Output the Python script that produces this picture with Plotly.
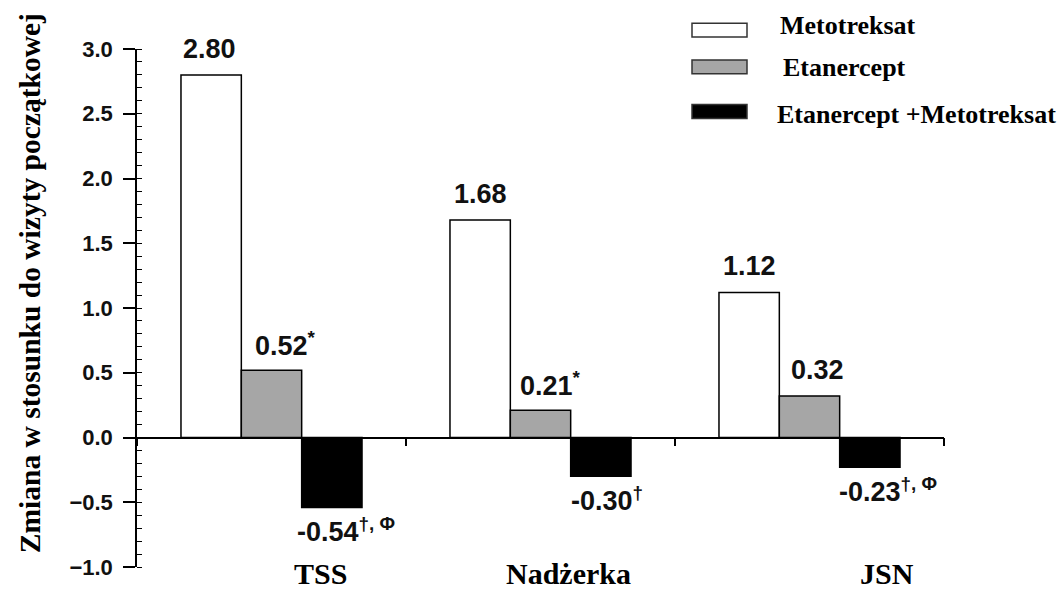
import plotly.graph_objects as go

categories = ["TSS", "Nadżerka", "JSN"]
series_names = ["Metotreksat", "Etanercept", "Etanercept +Metotreksat"]
metotreksat = [2.80, 1.68, 1.12]
etanercept = [0.52, 0.21, 0.32]
combo = [-0.54, -0.30, -0.23]
notes_met = ["", "", ""]
notes_eta = ["*", "*", ""]
notes_combo = ["†, Φ", "†", "†, Φ"]
y_ticks = [-1.0, -0.5, 0.0, 0.5, 1.0, 1.5, 2.0, 2.5, 3.0]
y_title = "Zmiana w stosunku do wizyty początkowej"

values = [metotreksat, etanercept, combo]
notes = [notes_met, notes_eta, notes_combo]
fills = ["#ffffff", "#a6a6a6", "#000000"]

# style / layout constants
W, H = 1064, 592
L, R, T, B = 137, 120, 49, 21
PW, PH = W - L - R, H - T - B
BARGAP = 0.327
BW = (1 - BARGAP) / 3
label_xshift = [[-2, 0, 0], [14, 10, 8], [14, 6, 18]]  # per series, per category


def px_x(px):
    return (px - L) / PW


def px_y(py):
    return (H - B - py) / PH


fig = go.Figure()
for name, vals, col in zip(series_names, values, fills):
    fig.add_trace(go.Bar(
        x=categories, y=vals, name=name,
        marker=dict(color=col, line=dict(color="#000000", width=1.5)),
        showlegend=False, hoverinfo="skip",
    ))

ann = []
sans = "Arial, Liberation Sans, sans-serif"
serif = "Times New Roman, Liberation Serif, serif"
for i, (vals, nts) in enumerate(zip(values, notes)):
    for j, v in enumerate(vals):
        txt = f"{v:.2f}"
        if nts[j]:
            txt += f"<sup>{nts[j]}</sup>"
        ann.append(dict(
            x=j + (i - 1) * BW, y=v, xref="x", yref="y",
            text=txt, showarrow=False,
            xanchor="center", yanchor="middle",
            xshift=label_xshift[i][j],
            yshift=26 if v >= 0 else -23,
            font=dict(family=sans, size=27, color="#111111", weight="bold"),
        ))

# category labels at the bottom
cat_px = [320, 568, 887]
for c, px in zip(categories, cat_px):
    ann.append(dict(
        x=px_x(px), y=px_y(578), xref="paper", yref="paper",
        text=c, showarrow=False, xanchor="center", yanchor="middle",
        font=dict(family=serif, size=30, color="#000000", weight="bold"),
    ))

# y axis title
ann.append(dict(
    x=px_x(30), y=px_y(285), xref="paper", yref="paper",
    text=y_title, showarrow=False, textangle=-90,
    xanchor="center", yanchor="middle",
    font=dict(family=serif, size=29.5, color="#000000", weight="bold"),
))

# custom legend
shapes = []
leg_boxes = [(692, 747, 23, 37), (692, 747, 60, 74), (692, 747, 105, 119)]
leg_text = [(778, 25), (781, 68), (775, 115)]
for name, col, (x0, x1, y0, y1), (tx, ty) in zip(series_names, fills, leg_boxes, leg_text):
    shapes.append(dict(
        type="rect", xref="paper", yref="paper",
        x0=px_x(x0), x1=px_x(x1), y0=px_y(y1), y1=px_y(y0),
        fillcolor=col, line=dict(color="#333333", width=1.5),
    ))
    ann.append(dict(
        x=px_x(tx), y=px_y(ty), xref="paper", yref="paper",
        text=name, showarrow=False, xanchor="left", yanchor="middle",
        font=dict(family=serif, size=26, color="#000000", weight="bold"),
    ))

fig.update_layout(
    width=W, height=H,
    margin=dict(l=L, r=R, t=T, b=B, pad=0),
    paper_bgcolor="white", plot_bgcolor="white",
    barmode="group", bargap=BARGAP, bargroupgap=0,
    annotations=ann, shapes=shapes,
    showlegend=False,
    xaxis=dict(
        type="category", range=[-0.5, 2.5],
        anchor="free", position=0.25,
        showline=True, linecolor="#000000", linewidth=1.5,
        ticks="outside", tickson="boundaries", ticklen=8, tickwidth=1.5, tickcolor="#000000",
        showticklabels=False, showgrid=False, zeroline=False,
    ),
    yaxis=dict(
        range=[-1, 3], tickvals=y_ticks, tickformat=".1f",
        showline=True, linecolor="#000000", linewidth=1.5,
        ticks="outside", ticklen=12, tickwidth=1.5, tickcolor="#000000",
        ticklabelstandoff=6,
        minor=dict(ticks="inside", dtick=0.1, ticklen=5, tickwidth=1.2, tickcolor="#000000", showgrid=False),
        showgrid=False, zeroline=False,
        tickfont=dict(family=sans, size=22, color="#111111", weight="bold"),
    ),
)

fig.write_html(
    "out.html",
    config={"displayModeBar": False},
    post_script="document.body.style.margin='0px';document.body.style.overflow='hidden';",
)
